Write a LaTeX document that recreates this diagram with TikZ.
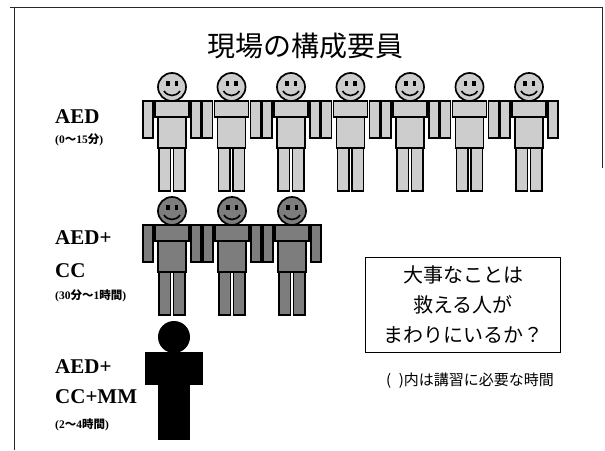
\documentclass[tikz,border=0pt]{standalone}
\usepackage{fontspec}
\setmainfont{Liberation Serif}
\newfontfamily\jpfont{Noto Sans CJK JP}
\usetikzlibrary{positioning}

\definecolor{lightbody}{RGB}{205,205,205}
\definecolor{darkbody}{RGB}{125,125,125}
\definecolor{framecolor}{RGB}{40,40,40}

\tikzset{
  partline/.style={draw=black, line width=1.7pt},
  frameline/.style={draw=framecolor, line width=0.8pt},
  grouplabel/.style={font=\fontsize{21}{23}\selectfont\bfseries, anchor=west, inner sep=0pt},
  timelabel/.style={font=\fontsize{11.5}{13}\selectfont\bfseries, anchor=west, inner sep=0pt},
  jptext/.style={font=\jpfont\fontsize{20}{30}\selectfont, align=center},
  notebox/.style={draw, line width=1.5pt, minimum width=195pt, minimum height=95pt, inner sep=0pt}
}

% one staff member: centre x, shoulder y, body colour
\newcommand{\staffmember}[3]{%
  \begin{scope}[shift={(#1,#2)}]
    \filldraw[partline, fill=#3] (-29,0) rectangle (-19,37);
    \filldraw[partline, fill=#3] (19,0) rectangle (29,37);
    \filldraw[partline, fill=#3] (-14,16) rectangle (14,47);
    \filldraw[partline, fill=#3] (-17,0) rectangle (17,16);
    \filldraw[partline, fill=#3] (-13,47) rectangle (-1.5,90);
    \filldraw[partline, fill=#3] (1.5,47) rectangle (13,90);
    \filldraw[partline, fill=#3] (0,-14) circle (14);
    % face
    \fill (-6,-20) rectangle (-2.5,-15);
    \fill (2.5,-20) rectangle (6,-15);
    \draw[line width=1.6pt] (-8,-10) .. controls (-4,-4) and (4,-4) .. (8,-10);
  \end{scope}}

\begin{document}
\begin{tikzpicture}[x=1pt, y=-1pt]
  \useasboundingbox (0,0) rectangle (605,450);

  % page frame
  \draw[frameline] (10,7) -- (602,7);
  \draw[frameline] (14,7) -- (14,450);
  \draw[frameline] (602,7) -- (602,168);

  \node[font=\jpfont\fontsize{28}{30}\selectfont] (title) at (305,46) {現場の構成要員};

  % first group
  \foreach \i in {0,...,6}
    \staffmember{172+59.5*\i}{101}{lightbody};
  \node[grouplabel] (aed) at (55,117) {AED};
  \node[timelabel] (aedtime) at (55,140) {(0{\jpfont ～}15{\jpfont\bfseries 分})};

  % second group
  \foreach \i in {0,1,2}
    \staffmember{172+60*\i}{225}{darkbody};
  \node[grouplabel] (aedcc) at (55,238) {AED+};
  \node[grouplabel] (cc) at (55,271) {CC};
  \node[timelabel] (cctime) at (55,296) {(30{\jpfont\bfseries 分～}1{\jpfont\bfseries 時間})};

  % third group
  \begin{scope}[shift={(175,352)}]
    \fill (-30,0) rectangle (28,33);
    \fill (-17,0) rectangle (15,88);
    \fill (-1,-15) circle (16);
  \end{scope}
  \node[grouplabel] (aedccmm) at (55,367) {AED+};
  \node[grouplabel] (ccmm) at (55,397) {CC+MM};
  \node[timelabel] (mmtime) at (55,425) {(2{\jpfont ～}4{\jpfont\bfseries 時間})};

  \node[notebox, jptext] (keybox) at (463,305) {大事なことは\\救える人が\\まわりにいるか？};
  \node[font=\jpfont\fontsize{15}{18}\selectfont] (hours) at (470,381) {(\,\,\,)内は講習に必要な時間};
\end{tikzpicture}
\end{document}
